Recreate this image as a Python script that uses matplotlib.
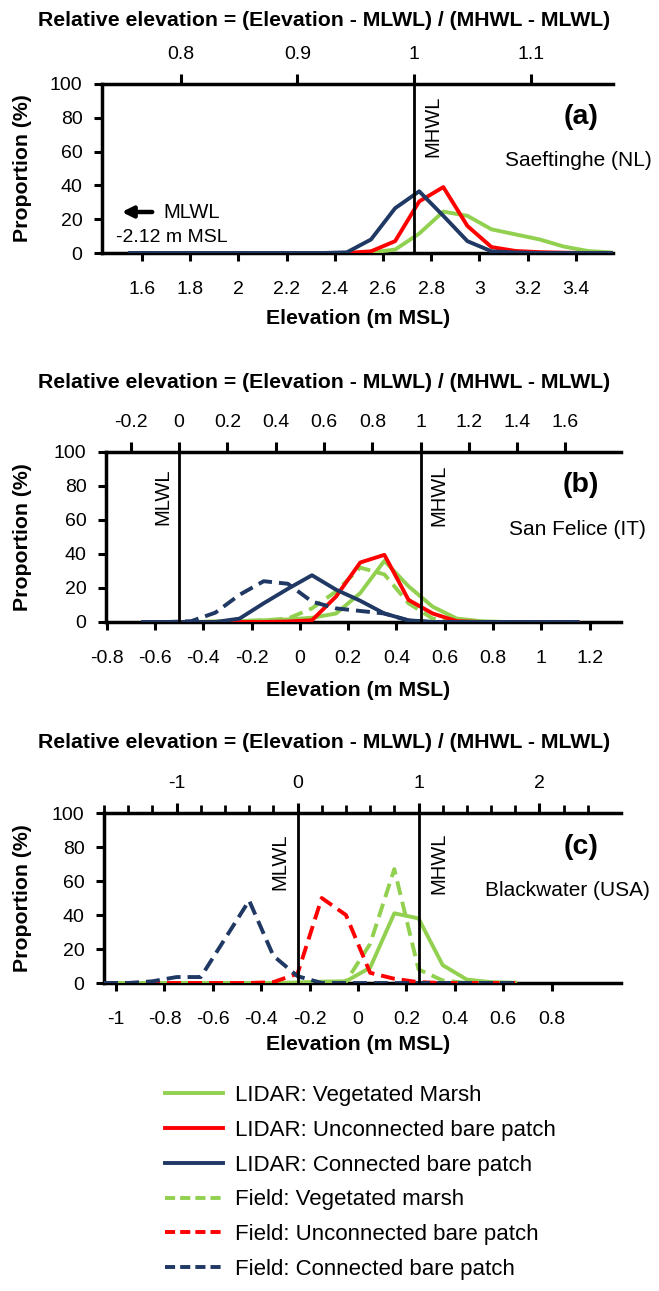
import matplotlib
matplotlib.use('Agg')
import matplotlib.pyplot as plt
from matplotlib.lines import Line2D
from matplotlib.ticker import FuncFormatter

plt.rcParams['font.family'] = ['Liberation Sans', 'DejaVu Sans']
plt.rcParams['axes.unicode_minus'] = False

W, H, DPI = 659, 1291, 100

# ---------------- data ----------------
# (a) Saeftinghe (NL)
x_a = [1.55, 1.65, 1.75, 1.85, 1.95, 2.05, 2.15, 2.25, 2.35, 2.45, 2.55,
       2.65, 2.75, 2.85, 2.95, 3.05, 3.15, 3.25, 3.35, 3.45, 3.55]
a_lidar_veg = [0, 0, 0, 0, 0, 0, 0, 0, 0, 0, 0.3, 2, 11.5, 24.5, 22, 14, 11, 8, 3.8, 1.2, 0.3]
a_lidar_unc = [0, 0, 0, 0, 0, 0, 0, 0, 0, 0, 1, 7, 30.5, 39, 16, 3.5, 1.2, 0.5, 0.2, 0, 0]
a_lidar_con = [0, 0, 0, 0, 0, 0, 0, 0, 0, 0.4, 8, 26.5, 36.5, 22, 7, 1, 0.3, 0, 0, 0, 0]
a_mlwl, a_mhwl = -2.12, 2.73
a_bottom_ticks = [1.6, 1.8, 2.0, 2.2, 2.4, 2.6, 2.8, 3.0, 3.2, 3.4]
a_top_ticks = [0.8, 0.9, 1.0, 1.1]

# (b) San Felice (IT)
x_b = [-0.65, -0.55, -0.45, -0.35, -0.25, -0.15, -0.05, 0.05, 0.15, 0.25,
       0.35, 0.45, 0.55, 0.65, 0.75, 0.85, 0.95, 1.05, 1.15]
b_lidar_veg = [0, 0, 0, 0.3, 0.5, 1, 1.5, 2.5, 5, 17, 36, 21, 9, 2, 0.5, 0, 0, 0, 0]
b_lidar_unc = [0, 0, 0, 0, 0, 0, 0.3, 1, 15, 35, 39.5, 13, 5, 0.5, 0, 0, 0, 0, 0]
b_lidar_con = [0, 0, 0, 0, 2, 11, 19.5, 27.5, 19, 12.5, 5, 1, 0, 0, 0, 0, 0, 0, 0]
b_field_veg = [0, 0, 0, 0.2, 0.5, 1, 2, 8, 18, 32, 28, 11, 2, 0.3, 0, 0, 0, 0, 0]
b_field_con = [0, 0, 0.5, 5.5, 16, 24, 22.5, 12, 8, 6.5, 5, 0.8, 0, 0, 0, 0, 0, 0, 0]
b_mlwl, b_mhwl = -0.5, 0.5
b_bottom_ticks = [-0.8, -0.6, -0.4, -0.2, 0, 0.2, 0.4, 0.6, 0.8, 1.0, 1.2]
b_top_ticks = [-0.2, 0, 0.2, 0.4, 0.6, 0.8, 1.0, 1.2, 1.4, 1.6]

# (c) Blackwater (USA)
x_c = [-1.05, -0.95, -0.85, -0.75, -0.65, -0.55, -0.45, -0.35, -0.25,
       -0.15, -0.05, 0.05, 0.15, 0.25, 0.35, 0.45, 0.55, 0.65]
c_lidar_veg = [0, 0, 0, 0, 0, 0, 0, 0, 0.3, 0.8, 1, 9, 41, 38, 10.5, 2, 0.5, 0.2]
c_field_veg = [0, 0, 0, 0, 0, 0, 0, 0, 0, 0, 0.8, 23, 67, 8, 1.5, 0, 0, 0]
c_field_unc = [0, 0, 0, 0, 0, 0, 0, 0.5, 5.5, 50, 40, 6, 2.5, 0.5, 0, 0, 0, 0]
c_field_con = [0, 0, 1, 3.5, 3.5, 26, 48.5, 16, 4, 0, 0, 0, 0, 0, 0, 0, 0, 0]
c_mlwl, c_mhwl = -0.25, 0.25
c_bottom_ticks = [-1.0, -0.8, -0.6, -0.4, -0.2, 0, 0.2, 0.4, 0.6, 0.8]
c_top_major = [-1, 0, 1, 2]
c_top_minor = [-1.6, -1.4, -1.2, -0.8, -0.6, -0.4, -0.2, 0.2, 0.4, 0.6, 0.8,
               1.2, 1.4, 1.6, 1.8, 2.2, 2.4]

y_ticks = [0, 20, 40, 60, 80, 100]

legend_labels = ['LIDAR: Vegetated Marsh', 'LIDAR: Unconnected bare patch',
                 'LIDAR: Connected bare patch', 'Field: Vegetated marsh',
                 'Field: Unconnected bare patch', 'Field: Connected bare patch']

GREEN = '#92D050'
RED = '#FF0000'
NAVY = '#1F3864'
LW = 2.8
DASH = (3.6, 1.8)

TICK_FS = 14
LABEL_FS = 15.3
NOTE_FS = 14.5

fig = plt.figure(figsize=(W / DPI, H / DPI), dpi=DPI)
fmt = FuncFormatter(lambda v, p: '%g' % round(v, 6))


def fx(px):
    return px / W


def fy(py):
    return 1 - py / H


def make_panel(box, xlim, mlwl, mhwl, bottom_ticks, top_major, top_minor=None):
    l, t, r, b = box
    ax = fig.add_axes([fx(l), fy(b), (r - l) / W, (b - t) / H])
    ax.set_xlim(*xlim)
    ax.set_ylim(0, 100)
    ax.set_yticks(y_ticks)
    ax.set_xticks(bottom_ticks)
    ax.xaxis.set_major_formatter(fmt)
    for s in ('right', 'top'):
        ax.spines[s].set_visible(False)
    for s in ('left', 'bottom'):
        ax.spines[s].set_linewidth(2.5)
    ax.tick_params(axis='both', direction='out', length=6, width=2.2,
                   labelsize=TICK_FS, colors='black')
    ax.tick_params(axis='x', pad=14.5)
    ax.tick_params(axis='y', pad=8)
    rng = mhwl - mlwl
    sec = ax.secondary_xaxis(
        'top',
        functions=(lambda e, m=mlwl, d=rng: (e - m) / d,
                   lambda q, m=mlwl, d=rng: q * d + m))
    sec.set_xticks(top_major)
    if top_minor is not None:
        sec.set_xticks(top_minor, minor=True)
    sec.xaxis.set_major_formatter(fmt)
    sec.spines['top'].set_linewidth(2.5)
    sec.tick_params(axis='x', which='major', direction='out', length=7,
                    width=2.2, labelsize=TICK_FS, pad=8)
    sec.tick_params(axis='x', which='minor', direction='out', length=6,
                    width=2.0)
    return ax


# ---------------- panel (a) ----------------
ax_a = make_panel((102, 84, 613, 253), (1.434, 3.554), a_mlwl, a_mhwl,
                  a_bottom_ticks, a_top_ticks)
ax_a.plot(x_a, a_lidar_veg, color=GREEN, lw=LW, zorder=3)
ax_a.plot(x_a, a_lidar_unc, color=RED, lw=LW, zorder=3)
ax_a.plot(x_a, a_lidar_con, color=NAVY, lw=LW, zorder=3)
ax_a.axvline(a_mhwl, color='black', lw=2.0, zorder=4)

# ---------------- panel (b) ----------------
ax_b = make_panel((106, 452, 621, 622), (-0.803, 1.33), b_mlwl, b_mhwl,
                  b_bottom_ticks, b_top_ticks)
ax_b.plot(x_b, b_lidar_veg, color=GREEN, lw=LW, zorder=3)
ax_b.plot(x_b, b_field_veg, color=GREEN, lw=LW, dashes=DASH, zorder=3)
ax_b.plot(x_b, b_lidar_unc, color=RED, lw=LW, zorder=3)
ax_b.plot(x_b, b_field_con, color=NAVY, lw=LW, dashes=DASH, zorder=3)
ax_b.plot(x_b, b_lidar_con, color=NAVY, lw=LW, zorder=3)
ax_b.axvline(b_mlwl, color='black', lw=2.0, zorder=4)
ax_b.axvline(b_mhwl, color='black', lw=2.0, zorder=4)

# ---------------- panel (c) ----------------
ax_c = make_panel((104, 813, 621, 983), (-1.05, 1.087), c_mlwl, c_mhwl,
                  c_bottom_ticks, c_top_major, c_top_minor)
ax_c.plot(x_c, c_lidar_veg, color=GREEN, lw=LW, zorder=3)
ax_c.plot(x_c, c_field_veg, color=GREEN, lw=LW, dashes=DASH, zorder=3)
ax_c.plot(x_c, c_field_unc, color=RED, lw=LW, dashes=DASH, zorder=3)
ax_c.plot(x_c, c_field_con, color=NAVY, lw=LW, dashes=DASH, zorder=3)
ax_c.axvline(c_mlwl, color='black', lw=2.0, zorder=4)
ax_c.axvline(c_mhwl, color='black', lw=2.0, zorder=4)

# ---------------- texts ----------------
title = 'Relative elevation = (Elevation - MLWL) / (MHWL - MLWL)'
for ty in (21, 382, 742):
    fig.text(fx(324), fy(ty), title, ha='center', va='center',
             fontsize=LABEL_FS, fontweight='bold')
for ty in (318, 690, 1045):
    fig.text(fx(358), fy(ty), 'Elevation (m MSL)', ha='center', va='center',
             fontsize=LABEL_FS, fontweight='bold')
for ty in (168, 537, 898):
    fig.text(fx(23), fy(ty), 'Proportion (%)', ha='center', va='center',
             rotation=90, fontsize=LABEL_FS, fontweight='bold')

for lab, ty in (('(a)', 117), ('(b)', 485), ('(c)', 847)):
    fig.text(fx(581), fy(ty), lab, ha='center', va='center', fontsize=20.5,
             fontweight='bold')
fig.text(fx(578), fy(160), 'Saeftinghe (NL)', ha='center', va='center', fontsize=15)
fig.text(fx(577), fy(530), 'San Felice (IT)', ha='center', va='center', fontsize=15)
fig.text(fx(567), fy(890), 'Blackwater (USA)', ha='center', va='center', fontsize=15)

for tx, ty, s in ((433, 126, 'MHWL'), (163, 497, 'MLWL'), (439, 495, 'MHWL'),
                  (280, 862, 'MLWL'), (439, 863, 'MHWL')):
    fig.text(fx(tx), fy(ty), s, ha='center', va='center', rotation=90,
             fontsize=NOTE_FS)

fig.text(fx(163), fy(213), 'MLWL', ha='left', va='center', fontsize=NOTE_FS)
fig.text(fx(116), fy(238), '-2.12 m MSL', ha='left', va='center', fontsize=14)
fig.add_artist(matplotlib.patches.FancyArrowPatch(
    (fx(155), fy(212)), (fx(119), fy(212)), transform=fig.transFigure,
    arrowstyle='-|>', mutation_scale=16, lw=3.2, color='black'))

# ---------------- legend ----------------
LEG_DASH = (2.6, 1.3)
handles = [
    Line2D([], [], color=GREEN, lw=LW),
    Line2D([], [], color=RED, lw=LW),
    Line2D([], [], color=NAVY, lw=LW),
    Line2D([], [], color=GREEN, lw=LW, dashes=LEG_DASH),
    Line2D([], [], color=RED, lw=LW, dashes=LEG_DASH),
    Line2D([], [], color=NAVY, lw=LW, dashes=LEG_DASH),
]
LEG_FS = 16
em = LEG_FS * DPI / 72
fig.legend(handles, legend_labels, loc='upper left',
           bbox_to_anchor=(fx(165), fy(1085)), bbox_transform=fig.transFigure,
           frameon=False, fontsize=LEG_FS, handlelength=58 / em,
           handletextpad=12 / em,
           labelspacing=0.62, borderpad=0, borderaxespad=0)

fig.savefig('out.png', dpi=DPI)
